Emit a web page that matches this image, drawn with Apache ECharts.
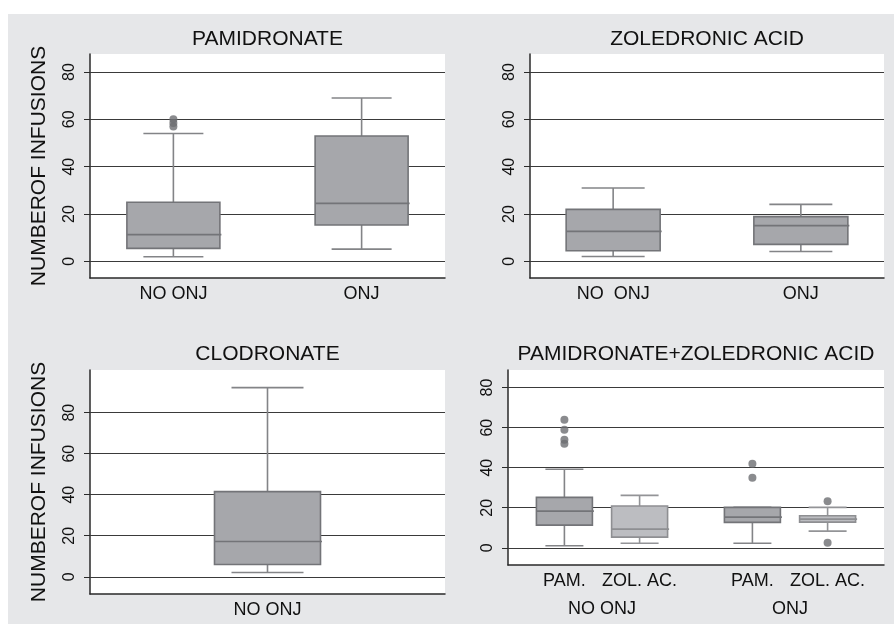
<!DOCTYPE html>
<html>
<head>
<meta charset="utf-8">
<script src="https://cdn.jsdelivr.net/npm/echarts@6/dist/echarts.min.js"></script>
<style>html,body{margin:0;padding:0;background:#fff}#c{width:894px;height:624px}</style>
</head>
<body>
<div id="c"></div>
<script>
// ---------------- data ----------------
const yTicks = [0, 20, 40, 60, 80];
const yName = 'NUMBEROF INFUSIONS';
const titles = ['PAMIDRONATE', 'ZOLEDRONIC ACID', 'CLODRONATE', 'PAMIDRONATE+ZOLEDRONIC ACID'];

// box stats: [min, Q1, median, Q3, max]
const pamCats = ['NO ONJ', 'ONJ'];
const pamStats = [[2, 5.5, 11.3, 25, 54], [5.2, 15.4, 24.5, 53, 69]];
const pamOutliers = [[0, 57], [0, 58.5], [0, 60]];   // [category index, value]

const zolCats = ['NO  ONJ', 'ONJ'];
const zolStats = [[2.1, 4.5, 12.7, 22, 31], [4.2, 7.2, 15.1, 18.9, 24.1]];

const cloCats = ['NO ONJ'];
const cloStats = [[2.1, 6, 17.2, 41.5, 92.2]];

const comboDrugs = ['PAM.', 'ZOL. AC.'];
const comboGroups = ['NO ONJ', 'ONJ'];
const comboPamStats = [[1, 11.3, 18.3, 25.2, 39.2], [2.3, 12.7, 15.3, 20.2, 20.2]];
const comboZolStats = [[2.3, 5.3, 9.3, 20.9, 26.2], [8.3, 12.8, 14.3, 16, 20.2]];
const comboPamOutliers = [[0, 52], [0, 54], [0, 59], [0, 64], [1, 35], [1, 42]];
const comboZolOutliers = [[1, 2.5], [1, 23.3]];

// ---------------- layout / style ----------------
const FONT = '"Liberation Sans", Arial, Helvetica, sans-serif';
const C = {
  bg: '#e6e7e9', text: '#111', axis: '#2a2a2a', grid: '#3a3a3a',
  outlier: '#6d6e72',
  pam: { fill: '#a6a7ab', stroke: '#737478', whisker: '#838487' },
  zol: { fill: '#bcbdc1', stroke: '#8e8f92', whisker: '#939497' }
};
const grids = [
  { left: 90, top: 54, width: 355, height: 224 },
  { left: 530, top: 54, width: 354, height: 224 },
  { left: 90, top: 370, width: 355, height: 224 },
  { left: 508, top: 370, width: 376, height: 195 }
];
const xRanges = [[0.557, 2.443], [0.557, 2.443], [0, 2], [0.25, 5.25]];
const yRanges = [[-7, 87.6], [-7, 87.6], [-8.4, 100.8], [-8.6, 88.8]];
const slotsTop = [1, 2];
const slotsClo = [1];
const comboPamSlots = [1, 3.5];
const comboZolSlots = [2, 4.5];
const comboSlots = [1, 2, 3.5, 4.5];
const comboSlotLabels = [comboDrugs[0], comboDrugs[1], comboDrugs[0], comboDrugs[1]];
const comboGroupSlots = [(comboPamSlots[0] + comboZolSlots[0]) / 2, (comboPamSlots[1] + comboZolSlots[1]) / 2];
const boxW = [93, 94, 106, 56];
const capW = [60, 63, 72, 38];

function boxSeries(gi, stats, slots, col, withGrid) {
  const bw = boxW[gi], cw = capW[gi];
  const s = {
    type: 'custom', xAxisIndex: gi, yAxisIndex: gi, z: 3,
    data: stats.map((st, i) => [slots[i]].concat(st)),
    encode: { x: 0, y: [1, 2, 3, 4, 5] },
    renderItem: function (params, api) {
      const x = api.value(0);
      const yy = k => api.coord([x, api.value(k)])[1];
      const cx = api.coord([x, api.value(3)])[0];
      const yMin = yy(1), yQ1 = yy(2), yMed = yy(3), yQ3 = yy(4), yMax = yy(5);
      const hw = bw / 2, hc = cw / 2;
      const ws = { stroke: col.whisker, lineWidth: 1.6 };
      return { type: 'group', children: [
        { type: 'line', shape: { x1: cx, y1: yQ3, x2: cx, y2: yMax }, style: ws },
        { type: 'line', shape: { x1: cx, y1: yQ1, x2: cx, y2: yMin }, style: ws },
        { type: 'line', shape: { x1: cx - hc, y1: yMax, x2: cx + hc, y2: yMax }, style: ws },
        { type: 'line', shape: { x1: cx - hc, y1: yMin, x2: cx + hc, y2: yMin }, style: ws },
        { type: 'rect', shape: { x: cx - hw, y: yQ3, width: bw, height: yQ1 - yQ3 },
          style: { fill: col.fill, stroke: col.stroke, lineWidth: 1.6 } },
        { type: 'line', shape: { x1: cx - hw, y1: yMed, x2: cx + hw + 1.5, y2: yMed },
          style: { stroke: col.stroke, lineWidth: 1.6 } }
      ] };
    }
  };
  if (withGrid) {
    s.markLine = {
      silent: true, symbol: 'none', z: 1, animation: false,
      label: { show: false },
      lineStyle: { type: 'solid', color: C.grid, width: 1 },
      emphasis: { disabled: true },
      data: yTicks.map(v => ({ yAxis: v }))
    };
  }
  return s;
}
function outlierSeries(gi, pts, slots) {
  return {
    type: 'scatter', xAxisIndex: gi, yAxisIndex: gi, z: 4,
    symbol: 'circle', symbolSize: 8, itemStyle: { color: C.outlier },
    data: pts.map(p => [slots[p[0]], p[1]])
  };
}
function xAxisOf(gi, slots, labels, margin, showLine) {
  return {
    type: 'value', gridIndex: gi, position: 'bottom', min: xRanges[gi][0], max: xRanges[gi][1],
    axisLine: { show: showLine, onZero: false, lineStyle: { color: C.axis, width: 1.5 } },
    axisTick: { show: false }, splitLine: { show: false },
    axisLabel: {
      customValues: slots, margin: margin, fontSize: 18, color: C.text, fontFamily: FONT,
      formatter: v => { const i = slots.indexOf(v); return i >= 0 ? labels[i] : ''; }
    }
  };
}
function yAxisOf(gi, withName) {
  return {
    type: 'value', gridIndex: gi, position: 'left', min: yRanges[gi][0], max: yRanges[gi][1],
    name: withName ? yName : '', nameLocation: 'middle', nameGap: 40, nameRotate: 90,
    nameTextStyle: { fontSize: 21, color: C.text, fontFamily: FONT },
    axisLine: { show: true, onZero: false, lineStyle: { color: C.axis, width: 1.5 } },
    axisTick: { show: true, customValues: yTicks, length: 6, lineStyle: { color: C.axis, width: 1 } },
    splitLine: { show: false },
    axisLabel: { customValues: yTicks, rotate: 90, margin: 12, fontSize: 16, color: C.text, fontFamily: FONT }
  };
}

const chart = echarts.init(document.getElementById('c'), null, { renderer: 'canvas' });
chart.setOption({
  animation: false,
  backgroundColor: C.bg,
  graphic: [
    { type: 'rect', silent: true, shape: { x: 0, y: 0, width: 894, height: 14 }, style: { fill: '#fff' } },
    { type: 'rect', silent: true, shape: { x: 0, y: 0, width: 8, height: 624 }, style: { fill: '#fff' } }
  ],
  title: titles.map((t, i) => ({
    text: t, left: grids[i].left + grids[i].width / 2, top: i < 2 ? 29 : 344,
    textAlign: 'center', padding: 0,
    textStyle: { fontSize: 21, fontWeight: 'normal', color: C.text, fontFamily: FONT }
  })),
  grid: grids.map(g => Object.assign({ show: true, backgroundColor: '#fff', borderWidth: 0, containLabel: false, outerBoundsMode: 'none' }, g)),
  xAxis: [
    xAxisOf(0, slotsTop, pamCats, 7, true),
    xAxisOf(1, slotsTop, zolCats, 7, true),
    xAxisOf(2, slotsClo, cloCats, 7, true),
    xAxisOf(3, comboSlots, comboSlotLabels, 7, true),
    xAxisOf(3, comboGroupSlots, comboGroups, 35, false)
  ],
  yAxis: [yAxisOf(0, true), yAxisOf(1, false), yAxisOf(2, true), yAxisOf(3, false)],
  series: [
    boxSeries(0, pamStats, slotsTop, C.pam, true),
    outlierSeries(0, pamOutliers, slotsTop),
    boxSeries(1, zolStats, slotsTop, C.pam, true),
    boxSeries(2, cloStats, slotsClo, C.pam, true),
    boxSeries(3, comboPamStats, comboPamSlots, C.pam, true),
    boxSeries(3, comboZolStats, comboZolSlots, C.zol, false),
    outlierSeries(3, comboPamOutliers, comboPamSlots),
    outlierSeries(3, comboZolOutliers, comboZolSlots)
  ]
});
</script>
</body>
</html>
